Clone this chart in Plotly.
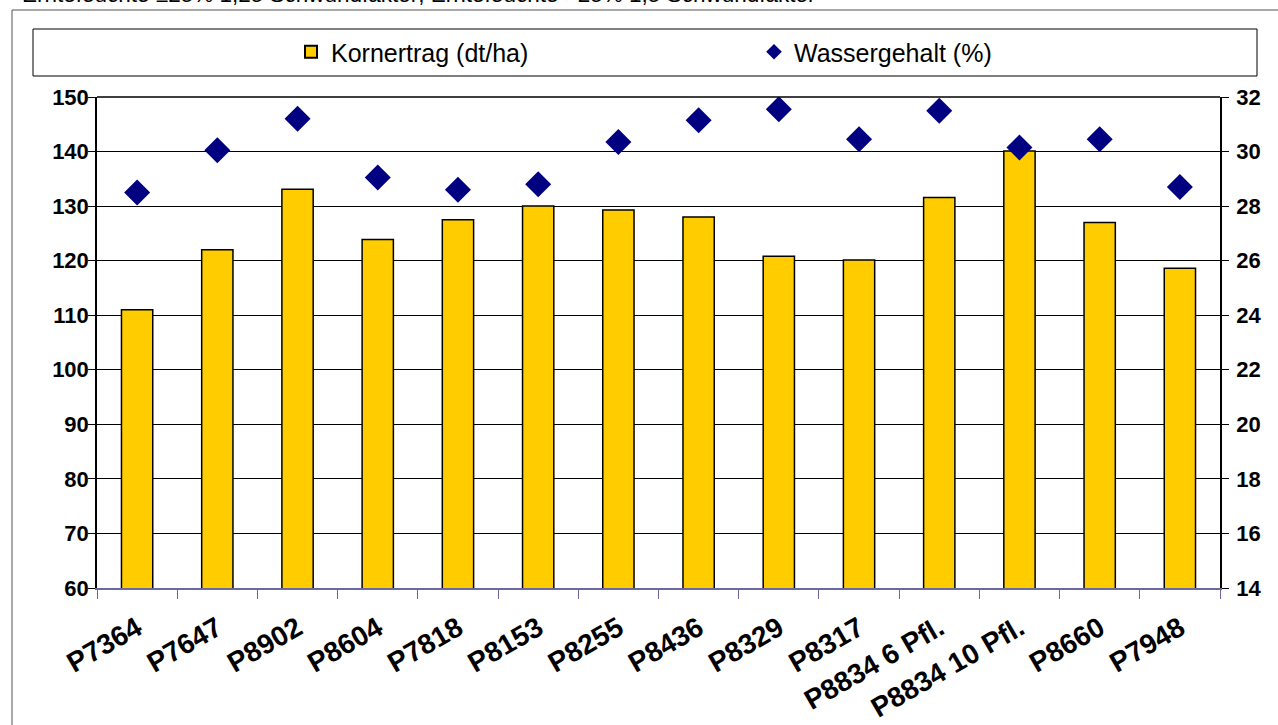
import plotly.graph_objects as go

categories = ["P7364", "P7647", "P8902", "P8604", "P7818", "P8153", "P8255",
              "P8436", "P8329", "P8317", "P8834 6 Pfl.", "P8834 10 Pfl.",
              "P8660", "P7948"]
kornertrag = [111.0, 122.0, 133.1, 123.9, 127.5, 130.0, 129.3,
              128.0, 120.8, 120.1, 131.6, 140.1, 127.0, 118.6]
wassergehalt = [28.5, 30.05, 31.2, 29.05, 28.6, 28.8, 30.35,
                31.15, 31.55, 30.45, 31.5, 30.15, 30.45, 28.7]

left_ticks = list(range(60, 151, 10))
right_ticks = list(range(14, 33, 2))

W, H = 1278, 725
L, R, T, B = 97, 58, 97, 137
pw = W - L - R
ph = H - T - B


def px_x(p):
    return (p - L) / pw


def px_y(p):
    return (H - B - p) / ph


fig = go.Figure()
fig.add_trace(go.Bar(
    x=categories, y=kornertrag, name="Kornertrag (dt/ha)",
    marker=dict(color="#FFCC00", line=dict(color="black", width=1.5)),
    yaxis="y",
))
fig.add_trace(go.Scatter(
    x=categories, y=wassergehalt, name="Wassergehalt (%)", mode="markers",
    marker=dict(symbol="diamond", color="#000080", size=20, line=dict(width=0)),
    yaxis="y2",
))

font_family = "Liberation Sans, Arial, sans-serif"

fig.update_layout(
    width=W, height=H,
    margin=dict(l=L, r=R, t=T, b=B, pad=0),
    paper_bgcolor="white", plot_bgcolor="white",
    bargap=0.61,
    font=dict(family=font_family, color="black"),
    showlegend=True,
    legend=dict(
        orientation="h", x=px_x(291), xanchor="left", y=px_y(52), yanchor="middle",
        font=dict(size=25, family=font_family, color="black"),
        entrywidth=418, itemwidth=30, itemsizing="constant",
        bgcolor="rgba(0,0,0,0)", borderwidth=0, traceorder="normal",
    ),
    xaxis=dict(
        type="category", range=[-0.5, len(categories) - 0.5], autorange=False,
        showgrid=False, automargin=False,
        showline=True, linecolor="#6A6AA0", linewidth=2,
        ticks="outside", ticklen=9, tickcolor="#6A6AA0", tickwidth=1,
        tickson="boundaries", tickangle=-30, ticklabelstandoff=11,
        tickfont=dict(size=28, family=font_family, color="black", weight="bold"),
        mirror=False,
    ),
    yaxis=dict(
        range=[60, 150], tickvals=left_ticks, ticktext=[str(v) for v in left_ticks],
        showgrid=True, gridcolor="black", gridwidth=1, automargin=False,
        showline=True, linecolor="black", linewidth=1.5,
        ticks="outside", ticklen=7, tickcolor="black", ticklabelstandoff=-5,
        tickfont=dict(size=22, family=font_family, color="black", weight="bold"),
        zeroline=False,
    ),
    yaxis2=dict(
        range=[14, 32], tickvals=right_ticks, ticktext=[str(v) for v in right_ticks],
        overlaying="y", side="right", showgrid=False, automargin=False,
        showline=True, linecolor="black", linewidth=1.5,
        ticks="outside", ticklen=7, tickcolor="black", ticklabelstandoff=3,
        tickfont=dict(size=22, family=font_family, color="black", weight="bold"),
        zeroline=False,
    ),
    shapes=[
        # outer chart frame
        dict(type="rect", xref="paper", yref="paper",
             x0=px_x(12), x1=px_x(1300), y0=px_y(760), y1=px_y(10),
             line=dict(color="#555555", width=1), layer="below"),
        # legend box
        dict(type="rect", xref="paper", yref="paper",
             x0=px_x(33), x1=px_x(1257), y0=px_y(76), y1=px_y(29),
             line=dict(color="black", width=1), layer="below"),
        # top border of plot area
        dict(type="line", xref="paper", yref="paper",
             x0=0, x1=1, y0=1, y1=1, line=dict(color="black", width=1.5)),
    ],
    annotations=[
        dict(text="Erntefeuchte \u226425% 1,25 Schwundfaktor; Erntefeuchte >25% 1,5 Schwundfaktor",
             xref="paper", yref="paper", x=px_x(20), y=px_y(9),
             xanchor="left", yanchor="bottom", showarrow=False,
             font=dict(size=22.5, family=font_family, color="black")),
    ],
)

fig.write_html("out.html", post_script="document.body.style.margin='0';",
               config={"displayModeBar": False})
